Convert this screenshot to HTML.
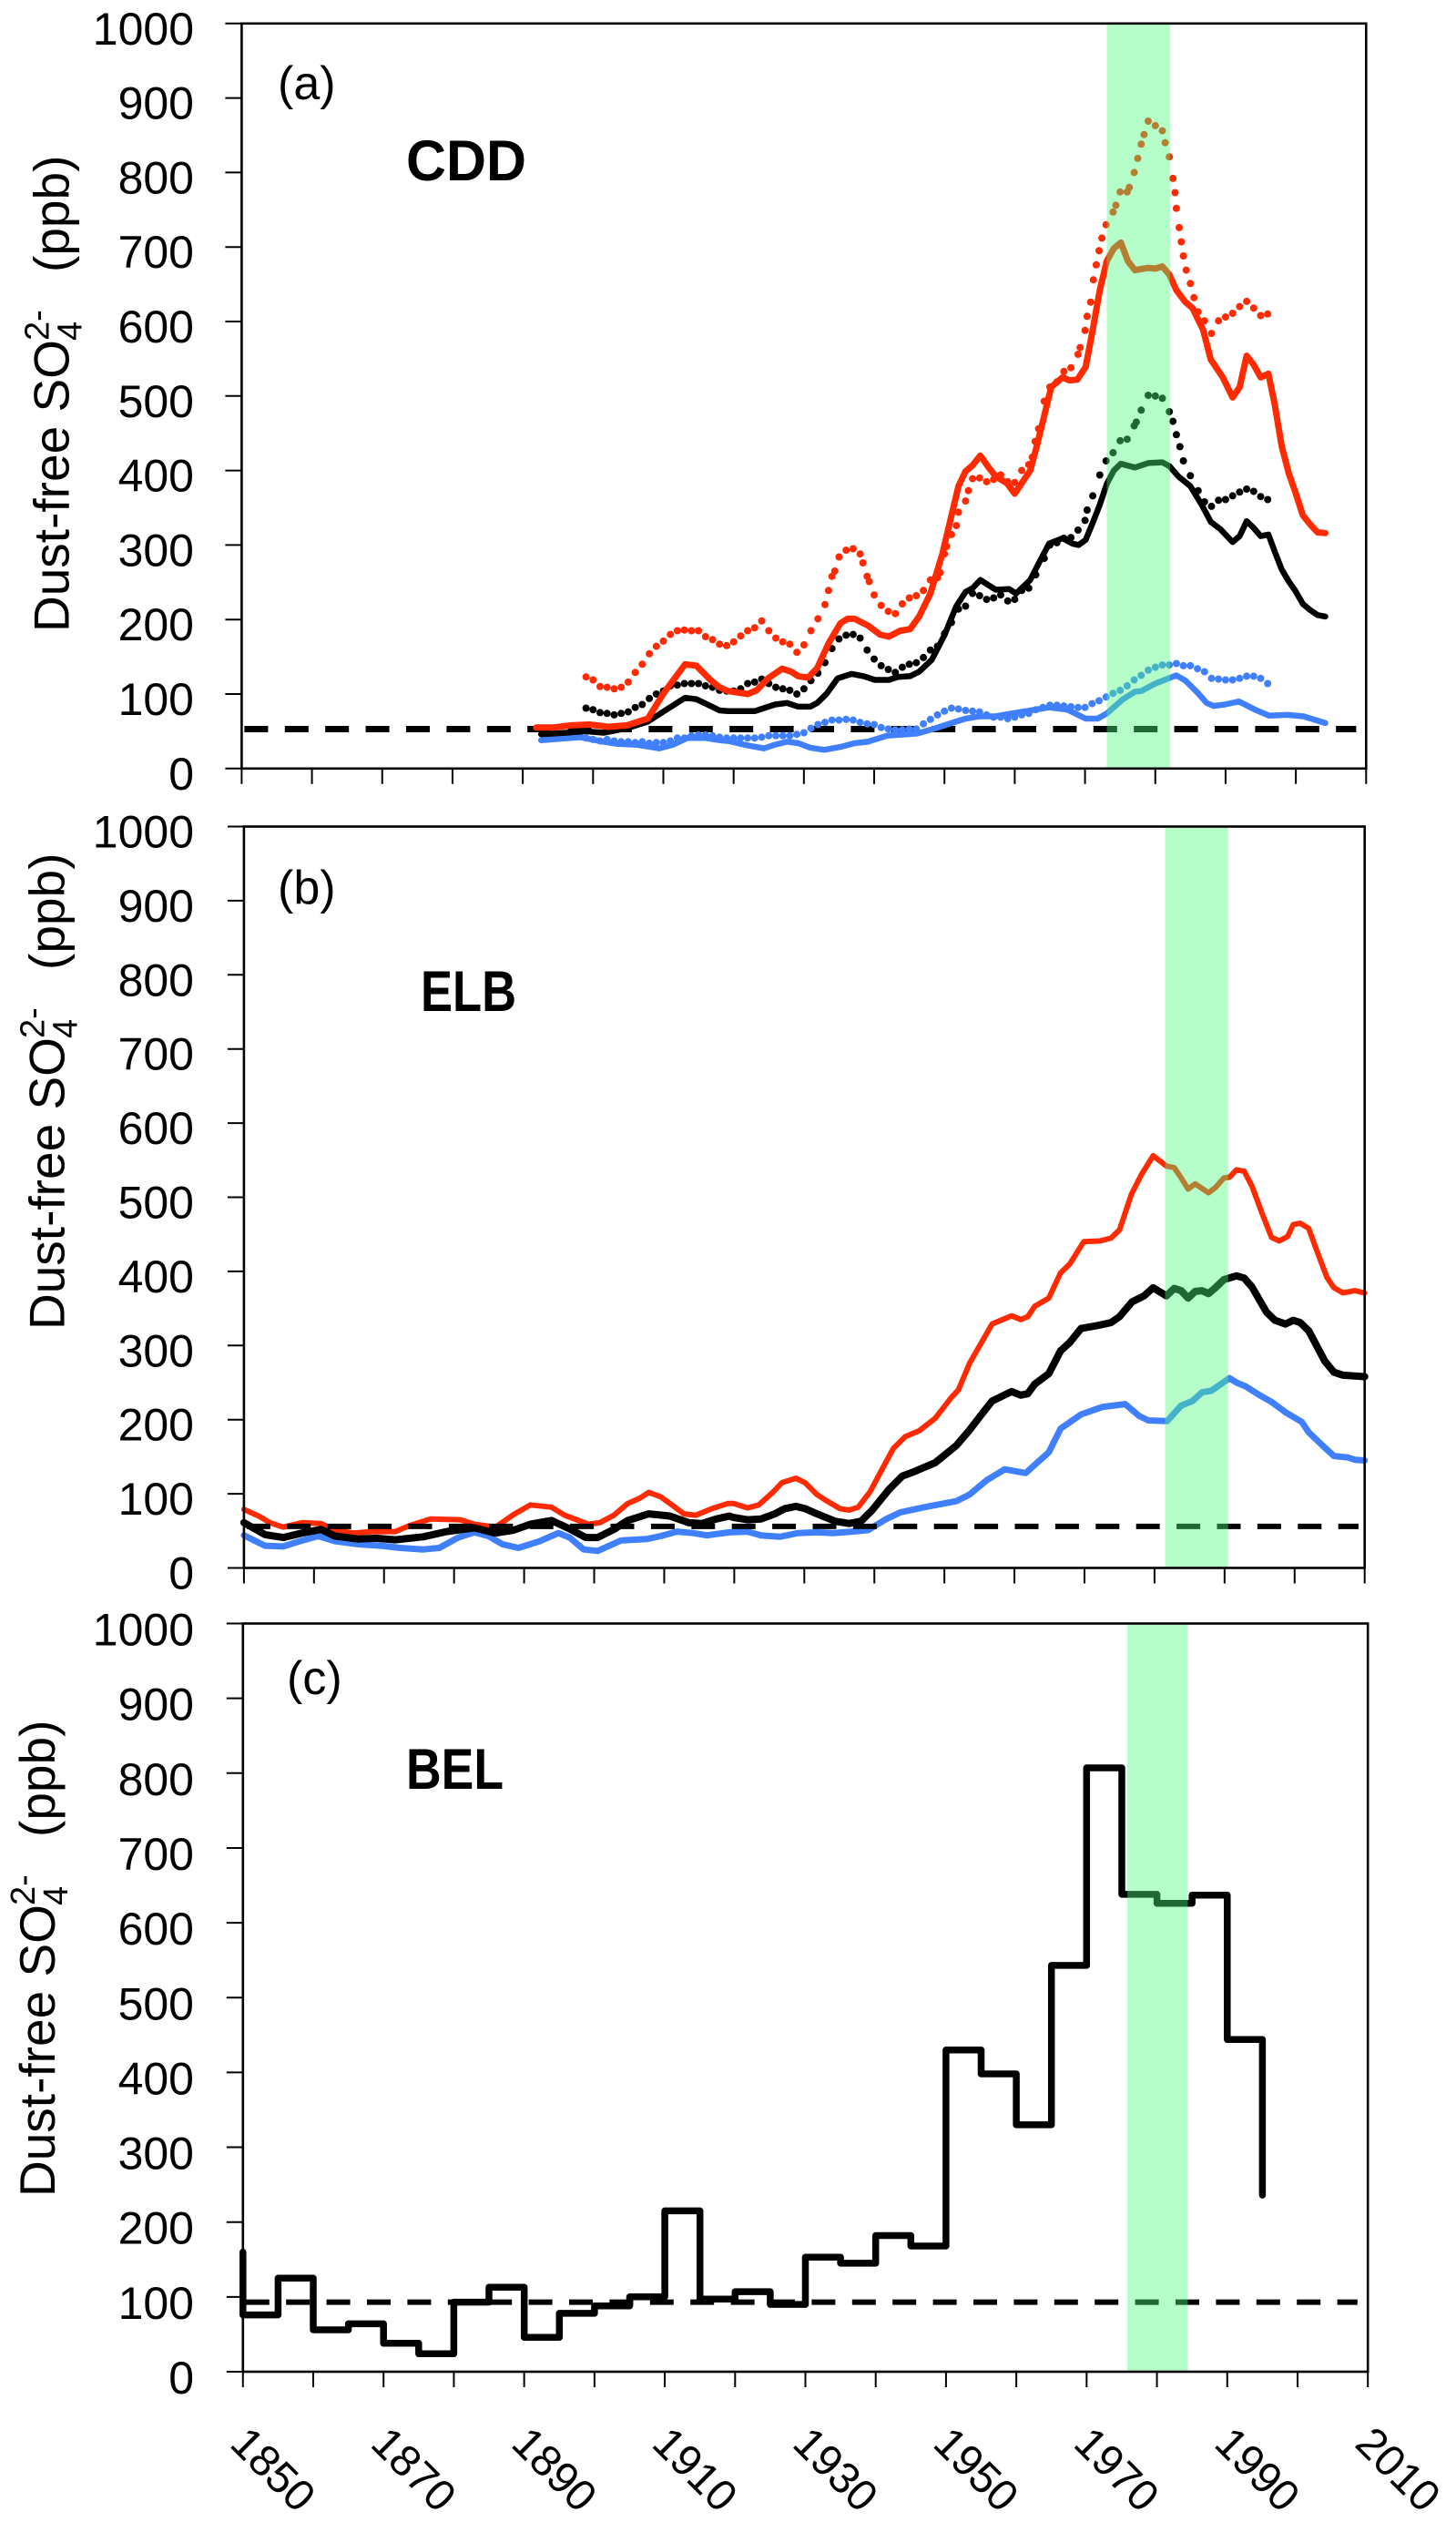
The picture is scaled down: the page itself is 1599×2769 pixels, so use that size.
<!DOCTYPE html>
<html lang="en">
<head>
<meta charset="utf-8">
<title>Dust-free sulfate records: CDD, ELB, BEL</title>
<style>
html,body{margin:0;padding:0;background:#fff;}
svg{display:block;font-family:"Liberation Sans",sans-serif;}
</style>
</head>
<body>
<svg id="chart" xmlns="http://www.w3.org/2000/svg" width="1599" height="2769" viewBox="0 0 1599 2769"></svg>
<script>
/* ---------- shared tick labels ---------- */
const yTickValues = [0,100,200,300,400,500,600,700,800,900,1000];
const xTickYears = [1850,1860,1870,1880,1890,1900,1910,1920,1930,1940,1950,1960,1970,1980,1990,2000,2010];
const xTickLabels = [1850,1870,1890,1910,1930,1950,1970,1990,2010];

/* ---------- panel (a) CDD ---------- */
const aThreshold = 53;
const aBand = [1973.1,1982.1];
const aRedYears = [1891.9,1894.3,1896.9,1899.5,1902.2,1904.8,1907.8,1910.1,1913.1,1914.7,1916.7,1918,1919.2,1922,1923.3,1924.9,1926.9,1928.2,1929.2,1930.6,1931.9,1933.5,1935.2,1936.2,1937.2,1939.1,1940.8,1942.1,1943.7,1945.1,1946.4,1948,1949.7,1952,1953,1954,1955.1,1956.3,1957.3,1958.9,1960,1962.2,1963.2,1965.2,1966.8,1967.8,1968.9,1970.1,1971.1,1972.1,1973.1,1974.1,1975.1,1976.1,1977.1,1979,1980,1981,1982,1983,1984.3,1985.3,1986.8,1987.9,1989.6,1991,1992,1993,1994,1995,1996.1,1997,1998,1999,1999.9,2001,2002,2003.1,2004.2];
const aRedValues = [55,55,58,59,56,58,67,102,140,138,119,109,104,100,105,121,134,130,124,122,135,168,195,201,201,192,180,177,185,187,204,235,288,379,399,407,420,404,392,383,369,400,435,512,525,521,522,539,589,642,681,698,706,681,669,672,671,674,663,642,626,618,589,549,525,498,512,554,542,525,530,488,432,396,372,340,328,317,316];
const aBlackYears = [1892.6,1896.2,1898.9,1901.5,1904.8,1907.8,1910.1,1913.1,1914.7,1916.7,1918,1919.2,1923,1924.3,1925.9,1927.6,1929.2,1930.9,1931.9,1933.2,1934.8,1936.8,1938.5,1940.1,1942.1,1943.4,1945.1,1946.4,1948.2,1950,1951.7,1953,1954,1955.1,1956.3,1957.3,1959.2,1960.2,1962.2,1963.5,1964.9,1966.8,1968.2,1969.1,1970.1,1971.1,1972.1,1973.1,1974.1,1975.1,1977.1,1979,1981,1982,1983.3,1985,1986.6,1987.9,1989.3,1991,1992,1993,1994,1995,1996.1,1997,1998,1999,1999.9,2001,2002,2003.1,2004.2];
const aBlackValues = [46,48,50,48,54,63,77,95,93,84,78,77,77,81,86,88,83,83,88,100,121,127,124,119,119,123,124,130,146,179,218,237,242,253,246,240,241,235,253,277,302,309,302,300,307,330,354,382,400,409,404,410,411,406,392,379,354,331,321,304,312,332,323,312,314,291,267,251,239,221,213,206,204];
const aBlueYears = [1892.6,1898.2,1901.5,1903.5,1906.1,1909.4,1911.4,1913.4,1916,1918,1919.2,1922,1924.3,1925.9,1927.6,1929.2,1930.9,1932.9,1935.2,1937.2,1939.1,1941.8,1946.1,1948.4,1951,1953,1955,1957.3,1959.6,1961.6,1964.9,1967.5,1970.1,1971.8,1973.1,1975.4,1977.1,1978,1980,1983,1984.3,1986,1987.3,1988.3,1989.9,1991.9,1994.2,1996.2,1998.8,2001.1,2004.2];
const aBlueValues = [38,42,36,33,32,27,32,41,41,38,37,31,27,32,36,34,28,25,29,34,36,44,47,53,61,67,70,70,74,77,82,79,67,67,74,93,103,104,114,125,118,102,88,84,86,90,79,71,72,70,61];
const aRedDotYears = [1899,1900,1901,1902,1903,1904,1905,1906,1907,1908,1909,1910,1911,1912,1913,1914,1915,1916,1917,1918,1919,1920,1921,1922,1923,1924,1925,1926,1927,1928,1929,1930,1931,1932,1933,1933.5,1934,1934.4,1935,1936,1937,1938,1938.4,1939,1939.3,1940,1941,1942,1943,1944,1945,1946,1947,1948,1949,1949.4,1950,1950.3,1951,1951.7,1952,1953,1953.4,1954,1955,1956,1957,1958,1959,1960,1961,1962,1962.5,1962.9,1963.4,1964.2,1965,1966,1967,1968,1969,1969.3,1970,1970.3,1970.8,1971.2,1971.6,1972,1972.4,1973,1974,1974.4,1975,1976,1976.3,1977,1977.5,1978,1978.4,1979,1980,1981,1981.4,1982,1982.5,1982.8,1983,1983.4,1983.7,1984,1984.4,1985,1985.5,1986.1,1987,1988,1989,1990,1991,1992,1993,1994,1995,1996];
const aRedDotValues = [123,119,110,109,107,109,116,129,140,154,164,171,180,185,186,185,185,177,173,167,165,170,178,185,189,198,185,175,170,167,156,166,185,201,220,239,258,265,284,293,295,288,276,258,251,233,219,211,208,221,229,232,239,253,256,263,288,298,314,326,344,359,373,389,390,385,388,394,385,384,400,408,418,439,456,493,512,519,533,538,556,565,588,607,626,656,676,695,712,730,747,756,774,774,780,800,819,838,851,869,863,856,840,821,792,773,752,726,707,688,669,651,632,613,601,584,601,606,611,620,627,618,608,610];
const aBlackDotYears = [1899,1900,1901,1902,1903,1904,1905,1906,1907,1908,1909,1910,1911,1912,1913,1914,1915,1916,1917,1918,1919,1920,1921,1922,1923,1924,1925,1926,1927,1928,1929,1930,1931,1932,1933,1934,1935,1936,1937,1938,1939,1940,1941,1942,1943,1944,1945,1946,1947,1948,1949,1950,1951,1952,1953,1954,1955,1956,1957,1958,1959,1960,1961,1962,1963,1964.2,1965,1966,1967,1968,1969,1970,1970.3,1971.1,1972.1,1973,1974,1975,1976,1977,1977.3,1978,1979,1980,1981,1982,1982.5,1983,1983.5,1984,1985,1986.1,1987,1988,1989,1990,1991,1992,1993,1994,1995,1996];
const aBlackDotValues = [81,79,75,74,72,74,76,82,86,94,100,104,111,112,114,114,114,111,109,105,104,104,107,114,116,120,114,109,107,105,100,107,118,128,142,161,174,179,180,175,159,147,138,133,129,136,140,142,149,159,164,181,196,214,218,235,232,227,229,233,225,227,239,242,260,282,300,303,309,310,320,333,347,366,394,413,424,440,442,460,465,481,501,500,497,479,466,448,432,413,393,373,358,352,360,361,366,371,375,372,365,361];
const aBlueDotYears = [1899,1900,1901,1902,1903,1904,1905,1906,1907,1908,1909,1910,1911,1912,1913,1914,1915,1916,1917,1918,1919,1920,1921,1922,1923,1924,1925,1926,1927,1928,1929,1930,1931,1932,1933,1934,1935,1936,1937,1938,1939,1940,1941,1942,1943,1944,1945,1946,1947,1948,1949,1950,1951,1952,1953,1954,1955,1956,1957,1958,1959,1960,1961,1962,1963,1964,1965,1966,1967,1968,1969,1970,1971,1972,1973,1974,1975,1976,1977,1978,1979,1980,1981,1982,1983,1984,1985,1986,1987,1988,1989,1990,1991,1992,1993,1994,1995,1996];
const aBlueDotValues = [41,39,37,39,37,36,36,35,36,34,35,35,37,41,41,44,45,45,44,42,41,41,41,41,41,42,44,44,44,44,46,48,54,59,62,65,65,66,65,62,60,59,55,53,52,52,53,53,60,66,72,77,81,80,78,77,76,72,69,69,67,69,72,74,79,82,85,85,84,83,82,82,87,91,96,101,105,111,119,125,132,136,139,139,141,138,138,134,130,121,120,119,119,121,124,124,121,114];

/* ---------- panel (b) ELB ---------- */
const bThreshold = 56;
const bBand = [1981.5,1990.5];
const bRedYears = [1850,1852.3,1853.7,1855.6,1858.3,1861,1863,1865.6,1868.3,1871.6,1873.6,1876.6,1880.9,1882.9,1885.9,1888.5,1890.9,1893.9,1895.8,1899.2,1900.8,1902.8,1904.8,1906.5,1907.8,1909.5,1911.1,1912.8,1914.5,1916.8,1919.1,1919.9,1921.9,1923.5,1925.5,1926.8,1928.8,1930.1,1931.8,1933.1,1935.1,1936.4,1937.7,1939.4,1941.1,1942.7,1944.4,1946.4,1948.7,1951,1952,1953.6,1955.3,1956.8,1959.6,1960.9,1961.9,1962.9,1964.9,1966.6,1967.9,1969.9,1972.2,1973.8,1975,1976.7,1978.1,1979.8,1981.7,1982.8,1983.8,1984.8,1985.8,1987.7,1988.7,1989.9,1990.7,1991.7,1992.8,1993.9,1995.4,1996.7,1997.8,1999,1999.8,2000.8,2002,2003.2,2004.6,2005.6,2006.9,2008.6,2010];
const bRedValues = [79,69,61,55,61,60,51,47,49,49,57,66,65,59,55,72,85,82,71,59,61,71,87,94,102,96,85,73,71,80,87,87,81,85,102,115,121,115,99,91,80,78,82,103,133,161,177,185,202,230,240,276,304,329,340,335,339,353,364,398,410,440,441,445,456,504,530,556,542,540,526,511,518,506,513,526,527,537,535,515,477,446,441,447,463,465,458,427,392,378,371,374,371];
const bBlackYears = [1850,1853,1855.6,1858.3,1861,1863,1866.3,1868.9,1871.6,1875.6,1878.9,1882.9,1885.9,1888.5,1890.9,1893.9,1896.2,1898.8,1900.5,1902.8,1904.8,1907.8,1910.8,1913.5,1915.4,1917.4,1919.3,1919.9,1921.9,1923.8,1925.8,1927.2,1928.8,1930.1,1931.8,1934.4,1936.4,1938.1,1939.7,1942.1,1944,1945.7,1948.7,1951.7,1953.6,1955.3,1956.8,1959.6,1960.9,1961.9,1962.9,1964.9,1966.6,1967.9,1969.5,1971.9,1973.8,1975,1976.8,1978.5,1979.8,1981.7,1982.8,1983.8,1984.8,1985.8,1986.8,1987.7,1988.7,1989.9,1991.7,1992.8,1993.9,1996,1997.2,1998.7,1999.8,2000.8,2002,2004.3,2005.6,2006.9,2010];
const bBlackValues = [61,45,41,47,52,43,39,40,38,42,49,54,47,51,59,64,54,41,41,52,64,73,70,61,60,66,70,68,65,66,73,80,83,80,73,63,60,63,78,106,124,130,142,165,186,207,225,238,233,235,248,262,293,304,323,327,331,339,359,367,378,367,377,374,364,373,374,370,378,389,394,391,379,345,334,329,334,331,320,279,264,260,258];
const bBlueYears = [1850,1853,1855.6,1857.6,1860.6,1863,1866.3,1869.6,1872.3,1875.6,1877.9,1880.6,1882.9,1884.9,1886.9,1889.2,1892.2,1894.9,1896.5,1898.5,1900.5,1903.8,1907.5,1909.5,1911.8,1914.1,1916.1,1919.3,1921.9,1923.8,1926.5,1929.1,1931.8,1934.1,1936.8,1939.1,1941.7,1943.7,1945.7,1947.7,1951.7,1953.6,1956,1958.6,1961.6,1964.9,1966.6,1969.5,1972.5,1975.8,1977.8,1979.1,1981.8,1983.8,1985.4,1986.8,1988.1,1990.7,1991.7,1993,1995,1996.7,1998.7,2001,2002,2004,2005.6,2007.6,2008.6,2010];
const bBlueValues = [44,30,29,35,43,36,32,30,27,25,27,41,48,43,32,27,36,47,41,25,23,37,39,43,49,47,44,48,49,44,42,47,48,47,49,51,66,75,79,83,90,99,118,133,128,156,188,207,217,221,205,199,198,219,225,237,239,256,250,245,233,224,210,197,183,165,151,149,146,145];

/* ---------- panel (c) BEL ---------- */
const cThreshold = 93;
const cBand = [1975.8,1984.4];
const cBinStarts = [1850,1855,1860,1865,1870,1875,1880,1885,1890,1895,1900,1905,1910,1915,1920,1925,1930,1935,1940,1945,1950,1955,1960,1965,1970,1975,1980,1985,1990];
const cBinValues = [76,125,56,64,38,24,93,113,46,78,88,100,215,97,107,90,153,145,182,168,430,398,330,543,807,638,626,637,444];
const cLastBinEnd = 1995;
const cFirstValue = 160;
const cLastValue = 236;

/* ---------- drawing ---------- */
const SVG_NS = 'http://www.w3.org/2000/svg';
const root = document.getElementById('chart');
const COLOR_RED = '#ff2a00', COLOR_BLACK = '#000000', COLOR_BLUE = '#4080ff';

function make(tag, parent, attrs) {
  const el = document.createElementNS(SVG_NS, tag);
  for (const k in attrs) el.setAttribute(k, attrs[k]);
  parent.appendChild(el);
  return el;
}
function scales(p) {
  return {
    x: function (year) { return p.left + (year - 1850) * (p.right - p.left) / 160; },
    y: function (v) { return p.bottom - v * (p.bottom - p.top) / 1000; }
  };
}
function drawLine(g, s, years, values, color, width, name) {
  const d = years.map(function (yr, i) { return (i ? 'L' : 'M') + s.x(yr).toFixed(1) + ' ' + s.y(values[i]).toFixed(1); }).join('');
  const el = make('path', g, {d: d, fill: 'none', stroke: color, 'stroke-width': width, 'stroke-linejoin': 'round', 'stroke-linecap': 'round'});
  
  
}
function drawDots(g, s, years, values, color, name) {
  const group = make('g', g, {fill: color});
  
  
  years.forEach(function (yr, i) {
    const dot = make('circle', group, {cx: s.x(yr).toFixed(1), cy: s.y(values[i]).toFixed(1), r: 4});
    
    
  });
}
function drawSteps(g, s) {
  let d = 'M' + s.x(cBinStarts[0]).toFixed(1) + ' ' + s.y(cFirstValue).toFixed(1);
  cBinStarts.forEach(function (start, i) {
    const end = i + 1 < cBinStarts.length ? cBinStarts[i + 1] : cLastBinEnd;
    d += 'L' + s.x(start).toFixed(1) + ' ' + s.y(cBinValues[i]).toFixed(1);
    d += 'L' + s.x(end).toFixed(1) + ' ' + s.y(cBinValues[i]).toFixed(1);
  });
  d += 'L' + s.x(cLastBinEnd).toFixed(1) + ' ' + s.y(cLastValue).toFixed(1);
  const el = make('path', g, {d: d, fill: 'none', stroke: COLOR_BLACK, 'stroke-width': 7.5, 'stroke-linejoin': 'round', 'stroke-linecap': 'round'});
  
  
}
function drawThreshold(g, s, p, value, thickness) {
  const el = make('line', g, {x1: p.left + 3, x2: p.left + 1224, y1: s.y(value), y2: s.y(value), stroke: '#000', 'stroke-width': thickness, 'stroke-dasharray': '26 18.4'});
  
  
}
function drawBand(g, s, p, band) {
  const el = make('rect', g, {x: s.x(band[0]).toFixed(1), y: p.top, width: (s.x(band[1]) - s.x(band[0])).toFixed(1), height: p.bottom - p.top, fill: 'rgb(75,250,125)', 'fill-opacity': 0.41});
  
  
}
function drawAxes(g, s, p) {
  const frame = make('rect', g, {x: p.left, y: p.top, width: p.right - p.left, height: p.bottom - p.top, fill: 'none', stroke: '#000', 'stroke-width': 2.6});
  
  
  yTickValues.forEach(function (v) {
    const tick = make('line', g, {x1: p.left - 18, x2: p.left, y1: s.y(v), y2: s.y(v), stroke: '#000', 'stroke-width': 2});
    
    
    const label = make('text', g, {x: 213, y: s.y(v) + p.labelDrop, 'text-anchor': 'end', 'font-size': 50, fill: '#000'});
    label.textContent = String(v);
    
    
  });
  xTickYears.forEach(function (yr) {
    const tick = make('line', g, {x1: s.x(yr), x2: s.x(yr), y1: p.bottom, y2: p.bottom + 17, stroke: '#000', 'stroke-width': 2});
    
    
  });
}
function drawTitle(g, baseX, startY) {
  const t = make('text', g, {transform: 'translate(' + baseX + ' ' + startY + ') rotate(-90)', 'font-size': 55, fill: '#000'});
  
  
  const main = make('tspan', t, {x: 0, y: 0});
  main.textContent = 'Dust-free SO';
  const sub = make('tspan', t, {x: 320, y: 14, 'font-size': 38});
  sub.textContent = '4';
  const sup = make('tspan', t, {x: 320, y: -22, 'font-size': 38});
  sup.textContent = '2-';
  const unit = make('tspan', t, {x: 395, y: 0});
  unit.textContent = '(ppb)';
}
function drawLabels(g, tag, tagX, tagY, site, siteX, siteY, siteLen) {
  const a = make('text', g, {x: tagX, y: tagY, 'font-size': 52, fill: '#000'});
  a.textContent = tag;
  
  
  const b = make('text', g, {x: siteX, y: siteY, 'font-size': 63, 'font-weight': 'bold', fill: '#000', textLength: siteLen, lengthAdjust: 'spacingAndGlyphs'});
  b.textContent = site;
  
  
}

/* panel a */
const pa = {left: 265.4, right: 1500.3, top: 25.8, bottom: 843.8, labelDrop: 23};
const sa = scales(pa);
const ga = make('g', root, {});


drawTitle(ga, 75.5, 694);
drawLabels(ga, '(a)', 305, 109, 'CDD', 446, 198, 132);
drawThreshold(ga, sa, pa, aThreshold, 7);
drawDots(ga, sa, aBlueDotYears, aBlueDotValues, COLOR_BLUE, 'cdd-blue-dotted-series');
drawLine(ga, sa, aBlueYears, aBlueValues, COLOR_BLUE, 6.5, 'cdd-blue-series');
drawDots(ga, sa, aBlackDotYears, aBlackDotValues, COLOR_BLACK, 'cdd-black-dotted-series');
drawLine(ga, sa, aBlackYears, aBlackValues, COLOR_BLACK, 6.5, 'cdd-black-series');
drawDots(ga, sa, aRedDotYears, aRedDotValues, COLOR_RED, 'cdd-red-dotted-series');
drawLine(ga, sa, aRedYears, aRedValues, COLOR_RED, 7, 'cdd-red-series');
drawBand(ga, sa, pa, aBand);
drawAxes(ga, sa, pa);

/* panel b */
const pb = {left: 267.9, right: 1498.7, top: 907.5, bottom: 1721.5, labelDrop: 23};
const sb = scales(pb);
const gb = make('g', root, {});


drawTitle(gb, 70.4, 1460);
drawLabels(gb, '(b)', 305, 992, 'ELB', 462, 1110, 105);
drawLine(gb, sb, bRedYears, bRedValues, COLOR_RED, 6, 'elb-red-series');
drawLine(gb, sb, bBlueYears, bBlueValues, COLOR_BLUE, 7, 'elb-blue-series');
drawLine(gb, sb, bBlackYears, bBlackValues, COLOR_BLACK, 8, 'elb-black-series');
drawThreshold(gb, sb, pb, bThreshold, 6);
drawBand(gb, sb, pb, bBand);
drawAxes(gb, sb, pb);

/* panel c */
const pc = {left: 266.8, right: 1502.2, top: 1782.5, bottom: 2604, labelDrop: 24};
const sc = scales(pc);
const gc = make('g', root, {});


drawTitle(gc, 60, 2412);
drawLabels(gc, '(c)', 315, 1860, 'BEL', 446, 1964, 107);
drawSteps(gc, sc);
drawThreshold(gc, sc, pc, cThreshold, 6);
drawBand(gc, sc, pc, cBand);
drawAxes(gc, sc, pc);
xTickLabels.forEach(function (yr) {
  const x = sc.x(yr) - 16;
  const label = make('text', gc, {transform: 'translate(' + x.toFixed(1) + ' 2685) rotate(45)', 'font-size': 48, fill: '#000'});
  label.textContent = String(yr);
  
  
});
</script>
</body>
</html>
